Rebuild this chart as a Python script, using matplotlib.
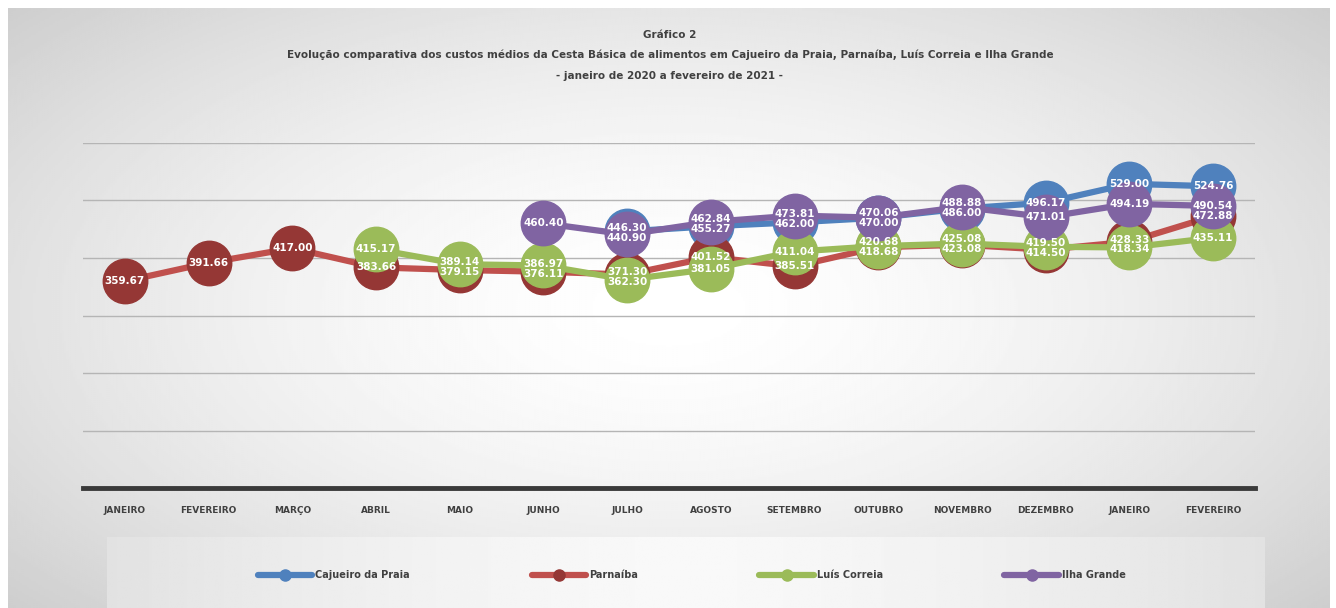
import numpy as np
import matplotlib
matplotlib.use('Agg')
import matplotlib.pyplot as plt

plt.rcParams['font.family'] = ['DejaVu Sans Condensed', 'DejaVu Sans']

meses = ['JANEIRO', 'FEVEREIRO', 'MARÇO', 'ABRIL', 'MAIO', 'JUNHO', 'JULHO',
         'AGOSTO', 'SETEMBRO', 'OUTUBRO', 'NOVEMBRO', 'DEZEMBRO', 'JANEIRO', 'FEVEREIRO']
nan = np.nan
cajueiro = [nan, nan, nan, nan, nan, nan, 446.30, 455.27, 462.00, 470.00, 486.00, 496.17, 529.00, 524.76]
parnaiba = [359.67, 391.66, 417.00, 383.66, 379.15, 376.11, 371.30, 401.52, 385.51, 418.68, 423.08, 414.50, 428.33, 472.88]
luis_correia = [nan, nan, nan, 415.17, 389.14, 386.97, 362.30, 381.05, 411.04, 420.68, 425.08, 419.50, 418.34, 435.11]
ilha_grande = [nan, nan, nan, nan, nan, 460.40, 440.90, 462.84, 473.81, 470.06, 488.88, 471.01, 494.19, 490.54]

series = [
    ('Cajueiro da Praia', cajueiro, '#4F81BD', '#4F81BD'),
    ('Parnaíba', parnaiba, '#C0504D', '#953735'),
    ('Luís Correia', luis_correia, '#9BBB59', '#9BBB59'),
    ('Ilha Grande', ilha_grande, '#8064A2', '#8064A2'),
]

fig = plt.figure(figsize=(13.36, 6.08), dpi=100)
fig.patch.set_facecolor('white')

# fundo com gradiente radial
bg = fig.add_axes([8 / 1336, 0, 1322 / 1336, 600 / 608], zorder=-5)
yy, xx = np.mgrid[-1:1:300j, -1:1:600j]
r = np.sqrt(xx ** 2 + (yy * 0.9) ** 2)
bg.imshow(1 - 0.12 * np.clip(r, 0, 1.4) ** 1.6, cmap='gray', vmin=0, vmax=1,
          aspect='auto', extent=[0, 1, 0, 1])
bg.axis('off')

# caixa da legenda
lg = fig.add_axes([107 / 1336, 0, 1158 / 1336, 71 / 608], zorder=-4)
gx = np.linspace(-1, 1, 400)
lg.imshow((0.975 - 0.09 * np.abs(gx) ** 1.5)[None, :], cmap='gray', vmin=0, vmax=1,
          aspect='auto', extent=[0, 1, 0, 1])
lg.axis('off')

ax = fig.add_axes([83 / 1336, (608 - 488) / 608, (1255 - 83) / 1336, (488 - 143) / 608])
ax.patch.set_alpha(0)
x = np.arange(len(meses))

for i, (nome, vals, cor, cor_m) in enumerate(series):
    ax.plot(x, vals, '-o', color=cor, lw=4.5, markersize=32, markerfacecolor=cor_m,
            markeredgecolor=cor_m, label=nome, zorder=3 + i, solid_capstyle='round')

# rotulos: afasta um pouco os que ficariam sobrepostos no mesmo mes
gap = 17
for xi in x:
    pts = sorted([v[xi] for _, v, _, _ in series if not np.isnan(v[xi])])
    pos = list(pts)
    for _ in range(10):
        for k in range(1, len(pos)):
            d = pos[k] - pos[k - 1]
            if d < gap:
                pos[k - 1] -= (gap - d) / 2
                pos[k] += (gap - d) / 2
    for v, p in zip(pts, pos):
        ax.text(xi, p, f'{v:.2f}', color='white', fontsize=7.5, fontweight='bold',
                ha='center', va='center', zorder=10)

ax.set_xlim(-0.5, len(meses) - 0.5)
ax.set_ylim(0, 600)
ax.set_yticks(range(0, 601, 100))
ax.set_yticklabels([])
ax.tick_params(axis='y', length=0)
ax.grid(axis='y', color='#b5b5b5', lw=1)
ax.set_axisbelow(True)
for s in ['top', 'right', 'left']:
    ax.spines[s].set_visible(False)
ax.spines['bottom'].set_color('#3a3a3a')
ax.spines['bottom'].set_linewidth(3.5)
ax.set_xticks(x)
ax.set_xticklabels(meses, fontsize=6.5, fontweight='bold', color='#404040')
ax.tick_params(axis='x', length=0, pad=13)

titulo = ['Gráfico 2',
          'Evolução comparativa dos custos médios da Cesta Básica de alimentos em Cajueiro da Praia, Parnaíba, Luís Correia e Ilha Grande',
          '- janeiro de 2020 a fevereiro de 2021 -']
for linha, ypix in zip(titulo, [35, 55, 76]):
    fig.text(670 / 1336, 1 - ypix / 608, linha, ha='center', va='center',
             fontsize=7.5, fontweight='bold', color='#404040')

handles, labels = ax.get_legend_handles_labels()
leg = fig.legend(handles, labels, loc='center left', bbox_to_anchor=(258 / 1336, 1 - 575 / 608), ncol=4,
                 frameon=False, fontsize=7, markerscale=0.25, handlelength=5.6,
                 handletextpad=0.3, columnspacing=12.5, borderaxespad=0, borderpad=0)
for t in leg.get_texts():
    t.set_color('#404040')
    t.set_fontweight('bold')

fig.savefig('out.png', dpi=100)
